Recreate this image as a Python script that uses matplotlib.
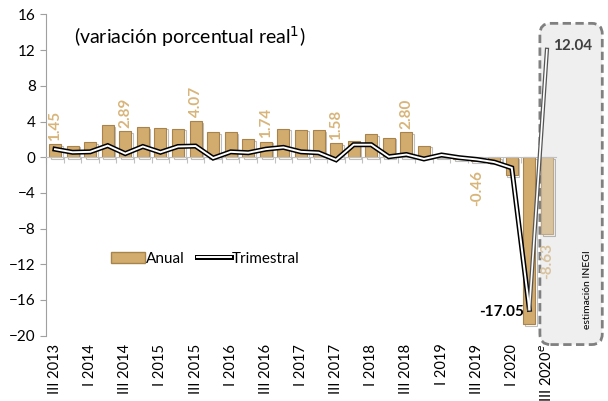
import matplotlib.pyplot as plt
from matplotlib.patches import FancyBboxPatch, Patch
from matplotlib.lines import Line2D
import matplotlib.patheffects as pe

plt.rcParams['font.family'] = ['Lato', 'DejaVu Sans']

# quarters III 2013 .. III 2020
quarters = ['III 2013', 'IV 2013', 'I 2014', 'II 2014', 'III 2014', 'IV 2014',
            'I 2015', 'II 2015', 'III 2015', 'IV 2015', 'I 2016', 'II 2016',
            'III 2016', 'IV 2016', 'I 2017', 'II 2017', 'III 2017', 'IV 2017',
            'I 2018', 'II 2018', 'III 2018', 'IV 2018', 'I 2019', 'II 2019',
            'III 2019', 'IV 2019', 'I 2020', 'II 2020', 'III 2020$^{e}$']
anual = [1.45, 1.3, 1.7, 3.6, 2.89, 3.4, 3.3, 3.2, 4.07, 2.8, 2.8, 2.0, 1.74,
         3.2, 3.1, 3.0, 1.58, 1.8, 2.6, 2.2, 2.80, 1.3, 0.1, -0.2, -0.46, -0.6,
         -2.0, -18.7, -8.63]
trimestral = [0.9, 0.55, 0.6, 1.3, 0.4, 1.2, 0.55, 1.2, 1.25, -0.1, 0.6, 0.5,
              0.9, 1.1, 0.6, 0.5, -0.3, 1.4, 1.4, 0.05, 0.3, -0.2, 0.25, -0.05,
              -0.25, -0.55, -1.2, -17.05, 12.04]
labeled = [0, 4, 8, 12, 16, 20, 24, 28]

tan = '#D2AC6E'
tan_light = '#D9C39F'
label_col = '#D8B57A'

fig = plt.figure(figsize=(6.08, 4.01), dpi=100)
ax = fig.add_axes([0.076, 0.163, 0.838, 0.801])
x = list(range(len(quarters)))

# shaded estimate box
box = FancyBboxPatch((27.6, -21.0), 3.55, 36.0,
                     boxstyle='round,pad=0,rounding_size=0.6',
                     mutation_aspect=2.0,
                     facecolor='#EFEFEF', edgecolor='#808080',
                     linestyle=(0, (3, 1.6)), linewidth=2, clip_on=False, zorder=0)
ax.add_patch(box)

colors = [tan] * (len(x) - 1) + [tan_light]
edges = ['#A8844C'] * (len(x) - 1) + ['#BFA784']
ax.bar(x, anual, width=0.68, color=colors, edgecolor=edges, linewidth=0.8, zorder=2,
       path_effects=[pe.SimpleLineShadow(offset=(1.2, -1.2), alpha=0.25), pe.Normal()])

# double line for quarterly series
ax.plot(x[:-1], trimestral[:-1], color='black', lw=3.6, zorder=3, solid_joinstyle='miter')
ax.plot(x[:-1], trimestral[:-1], color='white', lw=1.4, zorder=4, solid_joinstyle='miter')
ax.plot(x[-2:], trimestral[-2:], color='#555555', lw=3.0, zorder=3)
ax.plot(x[-2:], trimestral[-2:], color='white', lw=1.2, zorder=4)

for i in labeled:
    v = anual[i]
    col = tan_light if i == len(x) - 1 else label_col
    if v >= 0:
        ax.text(i, v + 0.4, f'{v:.2f}', rotation=90, ha='center', va='bottom',
                fontsize=11, fontweight='bold', color=col, zorder=5)
    else:
        ax.text(i, v - 1.0, f'{v:.2f}', rotation=90, ha='center', va='top',
                fontsize=11, fontweight='bold', color=col, zorder=5)

ax.text(26.7, trimestral[27] - 0.3, f'{trimestral[27]:.2f}', ha='right', va='center',
        fontsize=11, fontweight='bold', color='black', zorder=5)
ax.text(28.35, trimestral[28] + 0.4, f'{trimestral[28]:.2f}', ha='left', va='center',
        fontsize=11, fontweight='bold', color='#404040', zorder=5)
ax.text(30.3, -19.3, 'estimación INEGI', rotation=90, ha='center', va='bottom',
        fontsize=7.5, color='black', clip_on=False)

ax.text(1.1, 13.5, '(variación porcentual real$^{1}$)', fontsize=14, color='black',
        ha='left', va='center')

ax.set_xlim(-0.5, len(x) - 0.5)
ax.set_ylim(-20, 16)
ax.set_yticks(range(-20, 17, 4))
ax.tick_params(axis='y', labelsize=11, color='#A0A0A0', length=4)

ax.spines['top'].set_visible(False)
ax.spines['right'].set_visible(False)
ax.spines['left'].set_color('#A0A0A0')
ax.spines['bottom'].set_position(('data', 0))
ax.spines['bottom'].set_color('#C0C0C0')
ax.set_xticks([i + 0.5 for i in x[:-1]] + [-0.5])
ax.set_xticklabels([])
ax.tick_params(axis='x', color='#C0C0C0', length=4, direction='out')

for i in range(0, len(x), 2):
    ax.text(i, -20.9, quarters[i], rotation=90, ha='center', va='top', fontsize=10.5,
            clip_on=False)

handles = [Patch(facecolor=tan, edgecolor='#A8844C'),
           Line2D([], [], color='black', lw=3.6)]
leg = ax.legend(handles, ['Anual', 'Trimestral'], loc='center left',
                bbox_to_anchor=(0.1, 0.24), ncol=2, frameon=False, fontsize=11,
                handlelength=2.2, handletextpad=0.1, columnspacing=0.8)
# white core on legend line
leg.get_lines()[0].set_path_effects([pe.Stroke(linewidth=3.6, foreground='black'),
                                     pe.Stroke(linewidth=1.4, foreground='white')])

fig.savefig('out.png', dpi=100)
